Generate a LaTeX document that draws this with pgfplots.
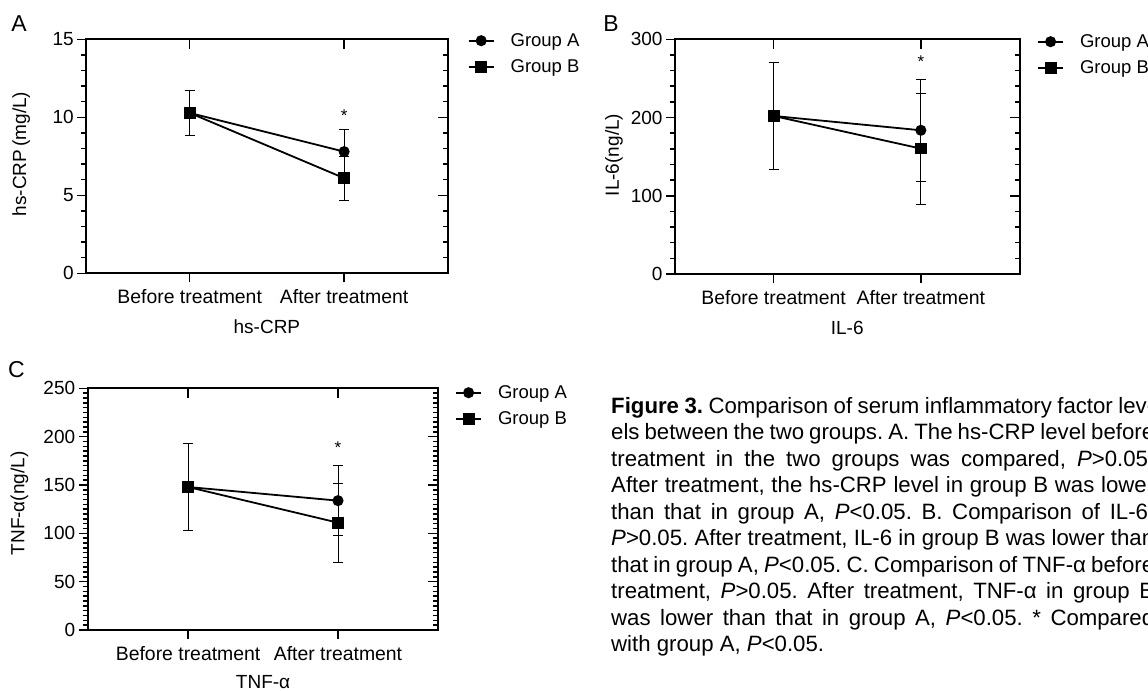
\documentclass[border=0pt]{standalone}
\usepackage{pgfplots}
\pgfplotsset{compat=1.18}
\usepackage{pgfplotstable}
\usepackage{fontspec}
\setmainfont{Liberation Sans}

% mean and SD
\pgfplotstableread{
x a     ea    b     eb
1 10.28 1.42  10.28 1.42
2 7.80  1.43  6.10  1.40
}\crp
\pgfplotstableread{
x a     ea    b     eb
1 202   68    202   68
2 183.7 65    160.3 71
}\ilsix
\pgfplotstableread{
x a     ea    b     eb
1 147.9 45.2  147.9 45.2
2 133.8 36.2  111.0 40.7
}\tnf

\newcommand{\fs}[1]{\fontsize{#1bp}{1.2\dimexpr#1bp\relax}\selectfont}

\pgfplotsset{
  panel/.style={
    scale only axis, anchor=south west,
    xmin=0.33, xmax=2.67, ymin=0,
    xtick={1,2}, xticklabels={Before treatment, After treatment},
    xtick pos=left, ytick pos=left, tick align=outside,
    major tick length=9bp, minor tick length=5bp,
    axis line style={line width=2bp},
    tick style={line width=1.5bp, black},
    tick label style={font=\fs{19}},
    xticklabel style={font=\fs{19.4}, yshift=-4bp},
    /pgf/number format/assume math mode=true,
    label style={font=\fs{19}, anchor=center},
    clip=false,
    legend cell align=left,
    legend style={at={(axis description cs:1,1)}, anchor=north west,
      draw=none, fill=none, inner sep=0pt, font=\fs{18.5},
      row sep=11.5bp, nodes={inner sep=0bp}, yshift=6bp,
      /tikz/every odd column/.append style={column sep=16bp}},
    legend image code/.code={\draw[mark repeat=2,mark phase=2]
      plot coordinates {(0bp,0bp) (12.5bp,0bp) (25bp,0bp)};},
  },
  mirror/.style={
    scale only axis, anchor=south west,
    xmin=0.33, xmax=2.67, ymin=0,
    xtick={1,2}, xticklabels={}, yticklabels={},
    xtick pos=right, ytick pos=right, tick align=inside,
    major tick length=10bp, minor tick length=5bp,
    axis line style={line width=2bp},
    tick style={line width=1.5bp, black},
  },
  grp/.style={black, line width=1.8bp, mark options={solid, fill=black},
    error bars/.cd, y dir=both, y explicit,
    error bar style={line width=0.8bp, black},
    error mark options={rotate=90, mark size=5bp, line width=0.8bp, black}},
  grpA/.style={mark=*, mark size=4.6bp, grp},
  grpB/.style={mark=square*, mark size=5bp, grp},
}

\begin{document}
\frenchspacing
\begin{tikzpicture}[x=1bp, y=1bp]

% ---- A: hs-CRP
\begin{axis}[panel, at={(86.2bp,417.7bp)}, width=361.4bp, height=234bp,
  ymax=15, ytick={0,5,10,15}, minor y tick num=4,
  ylabel={hs-CRP\,(mg/L)}, xlabel={hs-CRP},
  ylabel style={at={(axis description cs:-0.18,0.51)}},
  xlabel style={at={(axis description cs:0.5,-0.228)}},
  legend style={xshift=20bp}]
\addplot[grpA] table[x=x, y=a, y error=ea] {\crp};
\addplot[grpB] table[x=x, y=b, y error=eb] {\crp};
\legend{Group A, Group B}
\node[font=\fs{17}] at (axis cs:2,10.1) {*};
\end{axis}
\begin{axis}[mirror, at={(86.2bp,417.7bp)}, width=361.4bp, height=234bp,
  ymax=15, ytick={0,5,10,15}, minor y tick num=4]
\end{axis}

% ---- B: IL-6
\begin{axis}[panel, at={(675bp,417bp)}, width=344.5bp, height=234.7bp,
  ymax=300, ytick={0,100,200,300}, minor y tick num=4,
  ylabel={IL-6(ng/L)}, xlabel={IL-6},
  ylabel style={at={(axis description cs:-0.177,0.507)}},
  xlabel style={at={(axis description cs:0.5,-0.228)}},
  legend style={xshift=17.5bp, yshift=-1bp}]
\addplot[grpA] table[x=x, y=a, y error=ea] {\ilsix};
\addplot[grpB] table[x=x, y=b, y error=eb] {\ilsix};
\legend{Group A, Group B}
\node[font=\fs{17}] at (axis cs:2,271) {*};
\end{axis}
\begin{axis}[mirror, at={(675bp,417bp)}, width=344.5bp, height=234.7bp,
  ymax=300, ytick={0,100,200,300}, minor y tick num=4]
\end{axis}

% ---- C: TNF-alpha
\begin{axis}[panel, at={(87.7bp,61bp)}, width=350.7bp, height=241.7bp,
  ymax=250, ytick={0,50,...,250}, minor y tick num=9,
  ylabel={TNF-α(ng/L)}, xlabel={TNF-α},
  ylabel style={at={(axis description cs:-0.1945,0.524)}},
  xlabel style={at={(axis description cs:0.5,-0.216)}},
  legend style={xshift=16.6bp, yshift=-3bp}]
\addplot[grpA] table[x=x, y=a, y error=ea] {\tnf};
\addplot[grpB] table[x=x, y=b, y error=eb] {\tnf};
\legend{Group A, Group B}
\node[font=\fs{17}] at (axis cs:2,189) {*};
\end{axis}
\begin{axis}[mirror, at={(87.7bp,61bp)}, width=350.7bp, height=241.7bp,
  ymax=250, ytick={0,50,...,250}, minor y tick num=9]
\end{axis}

% panel letters
\node[font=\fs{23}] at (19bp,667.7bp) {A};
\node[font=\fs{23}] at (611bp,667.5bp) {B};
\node[font=\fs{23}] at (16.5bp,321bp) {C};

% caption (runs past the right edge, as in the source)
\node[anchor=base west, inner sep=0pt] at (611bp,277.7bp) {\parbox[t]{600bp}{\fontsize{22.2bp}{26.5bp}\selectfont
\makebox[543bp][s]{\textbf{Figure 3.} Comparison of serum inflammatory factor lev-}\\
\makebox[543bp][s]{els between the two groups. A. The hs-CRP level before}\\
\makebox[543bp][s]{treatment in the two groups was compared, \textit{P}>0.05.}\\
\makebox[543bp][s]{After treatment, the hs-CRP level in group B was lower}\\
\makebox[543bp][s]{than that in group A, \textit{P}<0.05. B. Comparison of IL-6,}\\
\makebox[543bp][s]{\textit{P}>0.05. After treatment, IL-6 in group B was lower than}\\
\makebox[543bp][s]{that in group A, \textit{P}<0.05. C. Comparison of TNF-α before}\\
\makebox[543bp][s]{treatment, \textit{P}>0.05. After treatment, TNF-α in group B}\\
\makebox[543bp][s]{was lower than that in group A, \textit{P}<0.05. * Compared}\\
with group A, \textit{P}<0.05.}};

\pgfresetboundingbox
\useasboundingbox (0,0) rectangle (1148bp,691bp);
\end{tikzpicture}
\end{document}
